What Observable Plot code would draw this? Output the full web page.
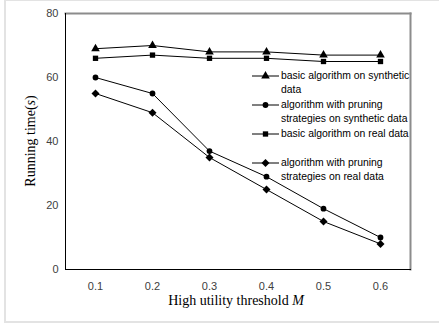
<!DOCTYPE html>
<html>
<head>
<meta charset="utf-8">
<script src="https://cdn.jsdelivr.net/npm/d3@7"></script>
<script src="https://cdn.jsdelivr.net/npm/@observablehq/plot@0.6"></script>
<style>
  html, body { margin: 0; padding: 0; background: #fff; }
  #wrap { position: relative; width: 439px; height: 327px; overflow: hidden; }
  #border { position: absolute; left: 4px; top: -1px; width: 450px; height: 324px; border: 2px solid #e3e3e3; box-sizing: border-box; }
  .ttl { position: absolute; font-family: "Liberation Serif", "Times New Roman", serif; font-size: 14px; color: #000; white-space: nowrap; }
  #legend { position: absolute; left: 252px; top: 68px; font-family: "Liberation Sans", Arial, sans-serif; font-size: 10.4px; color: #000; }
  .entry { position: relative; height: 29px; }
  .entry svg { position: absolute; left: 0; top: 0; }
  .entry .lab { position: absolute; left: 29px; top: 0; width: 132px; line-height: 14.5px; }
</style>
</head>
<body>
<div id="wrap">
  <div id="border"></div>
  <div id="chart"></div>
  <div class="ttl" id="ytitle" style="left:31px; top:141px; transform: translate(-50%,-50%) rotate(-90deg);">Running time(<i>s</i>)</div>
  <div class="ttl" id="xtitle" style="left:236px; top:301px; transform: translate(-50%,-50%);">High utility threshold <i>M</i></div>
  <div id="legend"></div>
</div>
<script>
const thresholds = ["0.1", "0.2", "0.3", "0.4", "0.5", "0.6"];
const seriesNames = [
  "basic algorithm on synthetic data",
  "algorithm with pruning strategies on synthetic data",
  "basic algorithm on real data",
  "algorithm with pruning strategies on real data"
];
const seriesSymbols = ["triangle", "circle", "square", "diamond2"];
const basicSynthetic = [69, 70, 68, 68, 67, 67];
const pruningSynthetic = [60, 55, 37, 29, 19, 10];
const basicReal = [66, 67, 66, 66, 65, 65];
const pruningReal = [55, 49, 35, 25, 15, 8];
const yTicks = [0, 20, 40, 60, 80];

const seriesValues = [basicSynthetic, pruningSynthetic, basicReal, pruningReal];
const table = [];
seriesNames.forEach((name, i) => {
  thresholds.forEach((t, j) => table.push({series: name, symbol: seriesSymbols[i], x: t, y: seriesValues[i][j]}));
});

const symbolR = {triangle: 3.2, circle: 2.9, square: 3.0, diamond2: 3.6};

const marks = [
  Plot.frame({anchor: "top", stroke: "#8c8c8c", strokeWidth: 2}),
  Plot.frame({anchor: "right", stroke: "#8c8c8c", strokeWidth: 2}),
  Plot.frame({anchor: "left", stroke: "#000", strokeWidth: 1}),
  Plot.frame({anchor: "bottom", stroke: "#000", strokeWidth: 1}),
  Plot.axisY(yTicks, {tickSize: 0, tickPadding: 7, fontSize: 11, fill: "#404040", label: null}),
  Plot.axisX({tickSize: 0, tickPadding: 13, fontSize: 11, fill: "#404040", label: null}),
  Plot.line(table, {x: "x", y: "y", z: "series", stroke: "#000", strokeWidth: 1})
];
seriesSymbols.forEach(s => {
  marks.push(Plot.dot(table.filter(d => d.symbol === s), {x: "x", y: "y", symbol: () => s, r: symbolR[s], fill: "#000", stroke: "none"}));
});

const chart = Plot.plot({
  width: 439,
  height: 327,
  marginLeft: 65,
  marginRight: 29,
  marginTop: 13,
  marginBottom: 58,
  style: {background: "transparent", fontFamily: "'Liberation Sans', Arial, sans-serif"},
  x: {type: "point", domain: thresholds, padding: 0.5},
  y: {domain: [0, 80]},
  symbol: {domain: seriesSymbols, range: seriesSymbols},
  marks
});
document.getElementById("chart").appendChild(chart);

// Legend
const legend = d3.select("#legend");
const symMap = {triangle: d3.symbolTriangle, circle: d3.symbolCircle, square: d3.symbolSquare, diamond2: d3.symbolDiamond2};
seriesNames.forEach((name, i) => {
  const e = legend.append("div").attr("class", "entry");
  const svg = e.append("svg").attr("width", 28).attr("height", 16);
  svg.append("line").attr("x1", 0).attr("x2", 27).attr("y1", 8).attr("y2", 8).attr("stroke", "#000").attr("stroke-width", 1);
  const s = seriesSymbols[i];
  const r = symbolR[s];
  svg.append("path").attr("transform", "translate(13.5,8)")
    .attr("d", d3.symbol(symMap[s], Math.PI * r * r)()).attr("fill", "#000");
  e.append("div").attr("class", "lab").style("top", "0.5px").text(name);
});
</script>
</body>
</html>
